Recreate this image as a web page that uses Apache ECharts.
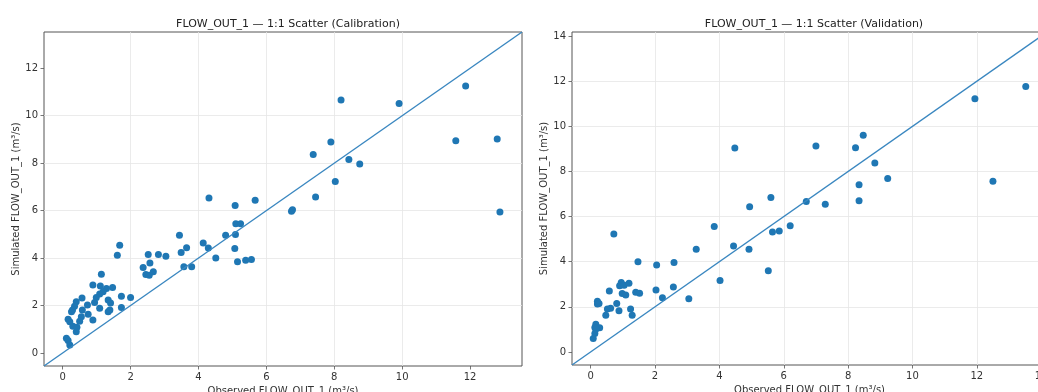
<!DOCTYPE html>
<html>
<head>
<meta charset="utf-8">
<script src="https://cdn.jsdelivr.net/npm/echarts@6/dist/echarts.min.js"></script>
<style>
  html, body { margin: 0; padding: 0; background: #ffffff; }
  #chart { width: 1038px; height: 392px; }
</style>
</head>
<body>
<div id="chart"></div>
<script>
// ---- data ----
const calibObs = [1.68,1.61,1.14,0.89,1.11,1.29,1.47,1.19,1.09,0.99,1.34,1.41,0.94,0.57,0.40,0.35,0.29,0.26,0.58,0.73,0.75,0.55,0.50,0.16,0.21,0.30,0.42,0.40,0.89,1.09,1.34,1.39,1.73,2.00,1.73,0.11,0.16,0.21,2.37,2.45,2.55,2.67,2.57,2.52,2.82,3.04,3.44,3.49,3.65,3.57,3.80,4.14,4.29,4.51,4.80,5.10,5.07,5.15,4.31,5.08,5.24,5.09,5.39,5.56,5.67,6.74,6.77,7.38,7.45,7.90,8.20,8.43,8.03,8.75,9.91,11.58,11.87,12.80,12.88];
const calibSim = [4.54,4.12,3.32,2.86,2.82,2.72,2.76,2.58,2.48,2.34,2.23,2.11,2.13,2.32,2.16,1.97,1.81,1.74,1.81,2.02,1.63,1.53,1.34,1.42,1.32,1.13,1.08,0.89,1.39,1.88,1.74,1.81,2.39,2.34,1.92,0.62,0.52,0.34,3.60,3.31,3.28,3.42,3.79,4.15,4.15,4.08,4.96,4.23,4.44,3.63,3.63,4.63,4.42,4.00,4.96,5.45,4.40,3.84,6.53,6.22,5.45,4.99,3.91,3.94,6.44,5.97,6.04,8.37,6.57,8.89,10.66,8.16,7.23,7.97,10.52,8.95,11.25,9.02,5.94];
const validObs = [0.72,3.84,1.47,2.05,2.59,3.28,4.44,4.92,5.52,4.02,3.05,2.57,2.23,2.03,0.95,0.90,1.04,1.19,0.98,1.09,1.40,1.52,0.58,0.21,0.21,0.26,0.81,0.52,0.62,0.88,1.24,1.29,0.47,0.16,0.13,0.28,0.16,0.13,0.08,5.60,5.65,5.86,6.20,6.70,7.00,7.29,8.23,8.47,8.83,8.34,8.34,9.23,11.94,12.50,13.52,4.48,4.94];
const validSim = [5.23,5.56,4.00,3.85,3.96,4.55,4.70,4.55,3.60,3.16,2.36,2.88,2.40,2.74,3.08,2.93,2.96,3.04,2.59,2.52,2.64,2.60,2.70,2.25,2.12,2.15,2.15,1.90,1.93,1.82,1.90,1.63,1.63,1.23,1.08,1.07,1.01,0.82,0.60,6.84,5.32,5.36,5.59,6.67,9.13,6.55,9.05,9.60,8.37,7.41,6.70,7.69,11.22,7.56,11.76,9.04,6.43];
const calibLims = [-0.55, 13.53];
const validLims = [-0.58, 14.18];
const calibTicks = [0, 2, 4, 6, 8, 10, 12];
const validTicks = [0, 2, 4, 6, 8, 10, 12, 14];
const titles = ['FLOW_OUT_1 \u2014 1:1 Scatter (Calibration)', 'FLOW_OUT_1 \u2014 1:1 Scatter (Validation)'];
const xName = 'Observed FLOW_OUT_1 (m\u00b3/s)';
const yName = 'Simulated FLOW_OUT_1 (m\u00b3/s)';

// ---- chart ----
const FONT = 'DejaVu Sans';
const BLUE = '#1f77b4';
const LINE_BLUE = '#3a87c0';
const chart = echarts.init(document.getElementById('chart'), null, { renderer: 'canvas' });

function pairs(xs, ys) { return xs.map((x, i) => [x, ys[i]]); }

function makeAxis(idx, lims, ticks, isX) {
  return {
    type: 'value',
    gridIndex: idx,
    min: lims[0],
    max: lims[1],
    splitNumber: 7,
    minInterval: 2,
    maxInterval: 2,
    name: isX ? xName : yName,
    nameLocation: 'middle',
    nameGap: isX ? 17 : (idx === 0 ? 23 : 22),
    nameTextStyle: { fontFamily: FONT, fontSize: 10, color: '#333' },
    axisLine: { show: false, onZero: false },
    axisTick: { show: true, inside: false, length: 3.5, lineStyle: { color: '#555', width: 0.8 }, customValues: ticks },
    axisLabel: { show: true, fontFamily: FONT, fontSize: 10, color: '#333', margin: 6, customValues: ticks },
    splitLine: { show: true, showMinLine: false, showMaxLine: false, lineStyle: { color: '#e6e6e6', width: 0.8 } }
  };
}

const option = {
  backgroundColor: '#ffffff',
  animation: false,
  title: [
    { text: titles[0], left: 283, top: 14, textAlign: 'center',
      textStyle: { fontFamily: FONT, fontSize: 11, fontWeight: 'normal', color: '#222' } },
    { text: titles[1], left: 809, top: 14, textAlign: 'center',
      textStyle: { fontFamily: FONT, fontSize: 11, fontWeight: 'normal', color: '#222' } }
  ],
  grid: [
    { left: 44, top: 32, width: 478, height: 334, show: true, borderColor: '#555', borderWidth: 1, containLabel: false, outerBoundsMode: 'none' },
    { left: 572, top: 32, width: 475, height: 333, show: true, borderColor: '#555', borderWidth: 1, containLabel: false, outerBoundsMode: 'none' }
  ],
  xAxis: [ makeAxis(0, calibLims, calibTicks, true), makeAxis(1, validLims, validTicks, true) ],
  yAxis: [ makeAxis(0, calibLims, calibTicks, false), makeAxis(1, validLims, validTicks, false) ],
  series: [
    { type: 'scatter', xAxisIndex: 0, yAxisIndex: 0, data: pairs(calibObs, calibSim),
      symbolSize: 7, itemStyle: { color: BLUE, opacity: 1 } },
    { type: 'line', xAxisIndex: 0, yAxisIndex: 0, data: [[calibLims[0], calibLims[0]], [calibLims[1], calibLims[1]]],
      symbol: 'none', lineStyle: { color: LINE_BLUE, width: 1.4 }, clip: true },
    { type: 'scatter', xAxisIndex: 1, yAxisIndex: 1, data: pairs(validObs, validSim),
      symbolSize: 7, itemStyle: { color: BLUE, opacity: 1 } },
    { type: 'line', xAxisIndex: 1, yAxisIndex: 1, data: [[validLims[0], validLims[0]], [validLims[1], validLims[1]]],
      symbol: 'none', lineStyle: { color: LINE_BLUE, width: 1.4 }, clip: true }
  ]
};
chart.setOption(option);
</script>
</body>
</html>
